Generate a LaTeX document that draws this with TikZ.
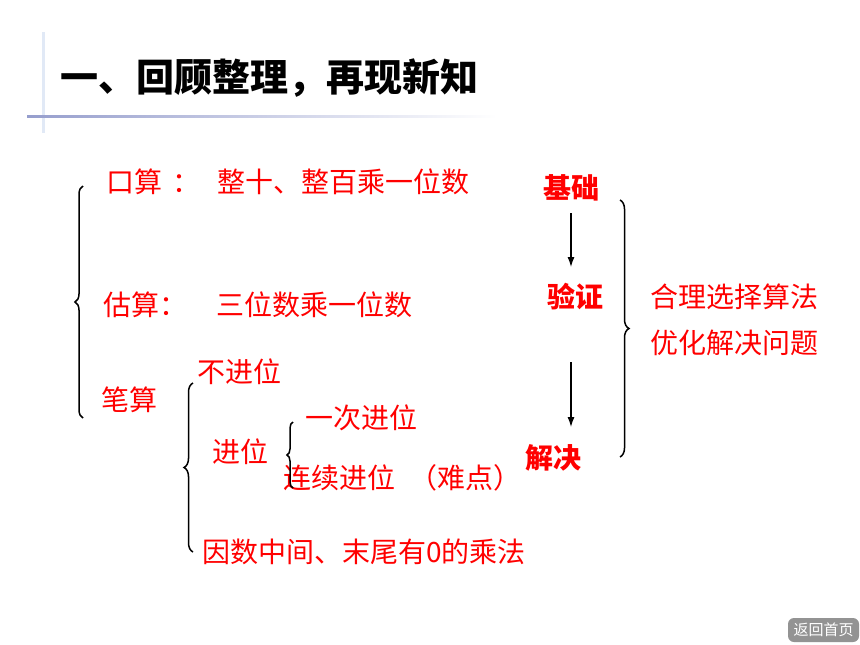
\documentclass[tikz,border=0pt]{standalone}
\usepackage{fontspec}
\setmainfont{Noto Sans CJK SC}
\usepackage{tikz}
\usetikzlibrary{arrows.meta,positioning,decorations.pathreplacing}
\definecolor{rulecol}{RGB}{150,158,205}
\definecolor{edgecol}{RGB}{225,233,246}

\begin{document}
\begin{tikzpicture}[
    x=1pt, y=-1pt,
    txt/.style={text=red, inner sep=0pt, anchor=west, font=\fontsize{28}{30}\selectfont},
    key/.style={text=red, inner sep=0pt, font=\bfseries\fontsize{28}{30}\selectfont},
    curly/.style={decorate, decoration={brace, amplitude=#1}, line width=1.5pt},
    arr/.style={-{Latex[length=10pt,width=7pt]}, line width=1.2pt}
]
    \useasboundingbox (0,0) rectangle (860,645);
    % title
    \fill[edgecol] (42,32) rectangle (45,133);
    \shade[left color=rulecol, right color=white] (27,115) rectangle (497,117.5);
    \node[inner sep=0pt, anchor=west, font=\bfseries\fontsize{38}{40}\selectfont] (title) at (60,78) {一、回顾整理，再现新知};

    % left column
    \node[txt] (kousuan) at (106,182) {口算\hspace{10pt}：\hspace{17pt}整十、整百乘一位数};
    \node[txt] (gusuan) at (103,305) {估算：\hspace{29pt}三位数乘一位数};
    \node[txt] (bisuan) at (101,400) {笔算};
    \node[txt] (bujinwei) at (197,372) {不进位};
    \node[txt] (jinwei) at (212,452) {进位};
    \node[txt] (yici) at (305,418) {一次进位};
    \node[txt] (lianxu) at (283,478) {连续进位\hspace{14pt}（难点）};
    \node[txt] (yinshu) at (202,552) {因数中间、末尾有0的乘法};

    \draw[curly=8pt] (83,418) -- (83,186);
    \draw[curly=9pt] (193,552) -- (193,383);
    \draw[curly=6pt] (293,488) -- (293,422);

    % right column
    \node[key] (jichu) at (571,188) {基础};
    \node[key] (yanzheng) at (575,297) {验证};
    \node[key] (jiejue) at (553,458) {解决};
    \node[txt] (heli) at (650,297) {合理选择算法};
    \node[txt] (youhua) at (650,343) {优化解决问题};

    \draw[arr, shorten <=25pt, shorten >=30pt] (jichu.center) -- (jichu.center |- yanzheng.center);
    \draw[arr, shorten <=65pt, shorten >=31pt] (yanzheng.center -| jichu.center) -- (jiejue.center -| jichu.center);
    \draw[curly=9pt] (620,200) -- (620,457);

    % button
    \node[fill=gray!85, rounded corners=6pt, minimum width=71pt, minimum height=24pt, inner sep=0pt,
          text=white, font=\fontsize{15}{16}\selectfont] (home) at (823.5,630) {返回首页};
\end{tikzpicture}
\end{document}
